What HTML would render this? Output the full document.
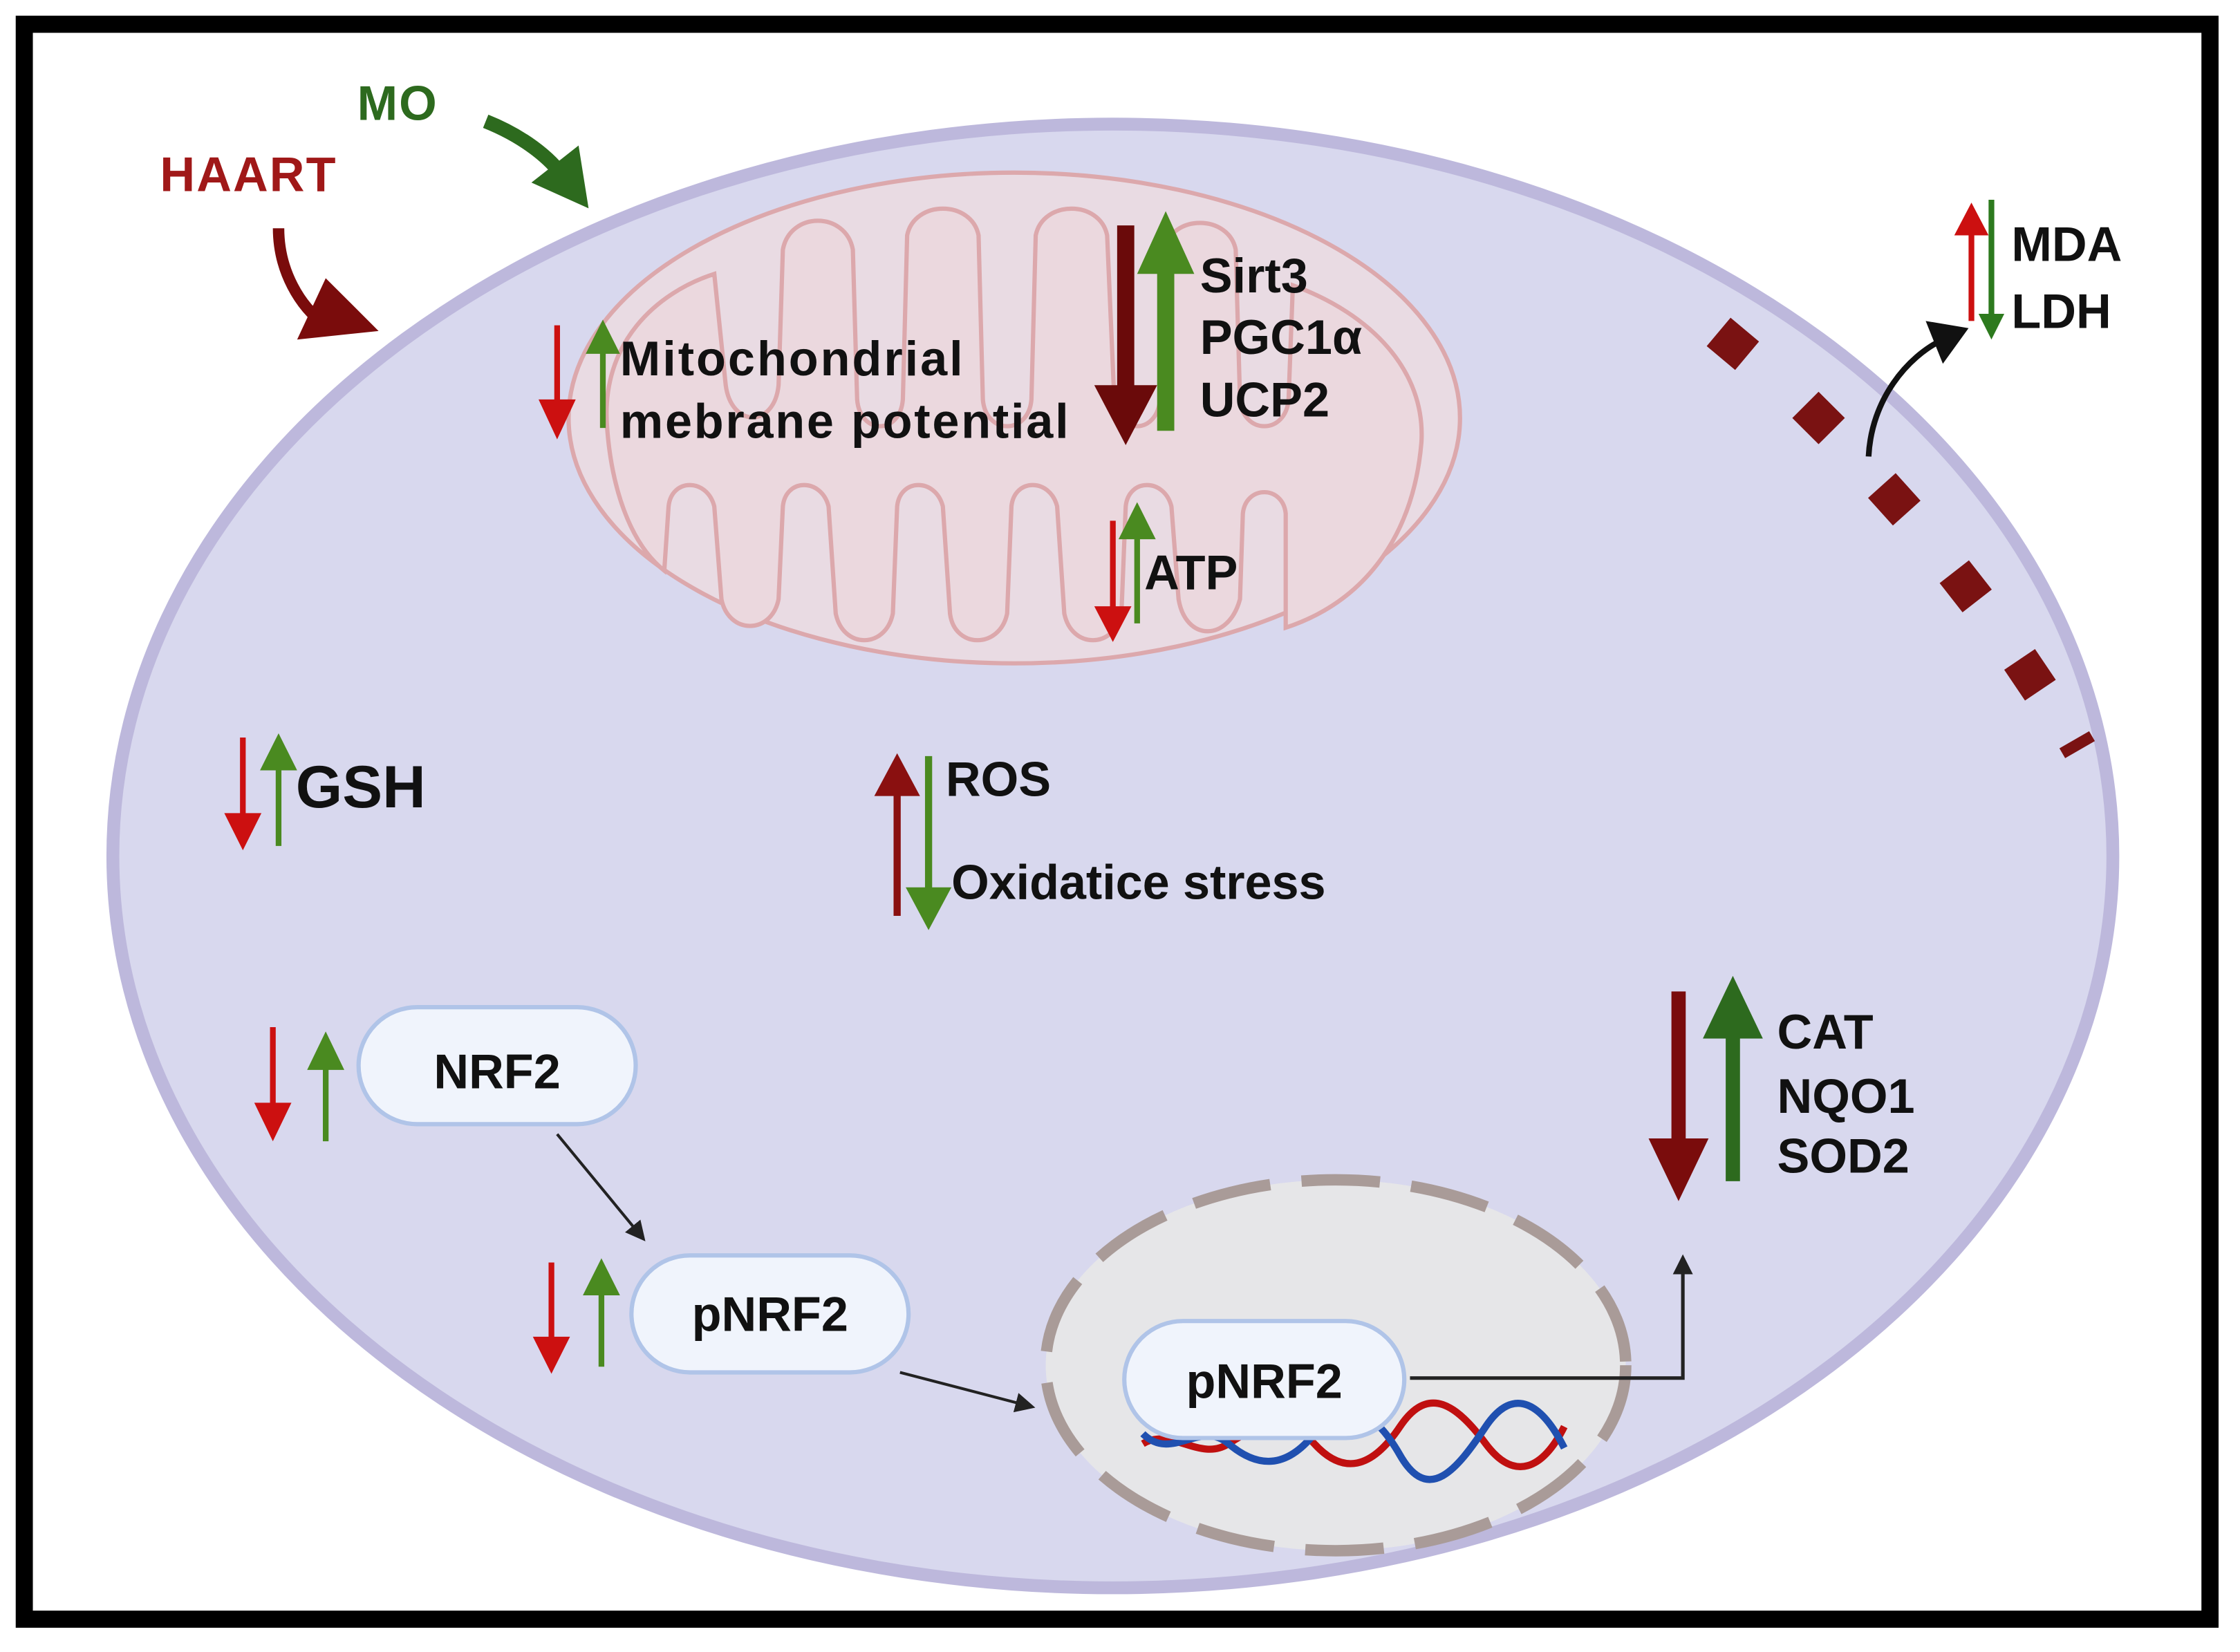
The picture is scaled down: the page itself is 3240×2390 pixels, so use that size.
<!DOCTYPE html>
<html><head><meta charset="utf-8"><style>
html,body{margin:0;padding:0;background:#fff}
svg{display:block}
text{font-family:"Liberation Sans",sans-serif;font-weight:bold}
</style></head><body>
<svg width="3240" height="2390" viewBox="0 0 1568 1158" preserveAspectRatio="none" xmlns="http://www.w3.org/2000/svg">
<defs>
<marker id="ak" viewBox="0 0 10 10" refX="8" refY="5" markerWidth="14" markerHeight="14" orient="auto" markerUnits="userSpaceOnUse"><path d="M0,0L10,5L0,10z" fill="#222"/></marker>
</defs>
<rect x="0" y="0" width="1568" height="1158" fill="#fff"/>
<rect x="17" y="17" width="1530" height="1118" fill="#fff" stroke="#000" stroke-width="12"/>
<ellipse cx="779" cy="600" rx="700" ry="513" fill="#d8d8ee" stroke="#bdb8dc" stroke-width="9"/>
<ellipse cx="710" cy="293" rx="312" ry="172" fill="#e9dbe3" stroke="#dca8ac" stroke-width="3"/>
<path d="M425,300 C420,240 460,205 500,192 L508,270 C512,300 542,300 545,270 L548,175 C553,148 592,148 597,175 L600,280 C602,305 630,305 632,280 L635,165 C640,140 680,140 685,165 L688,280 C690,305 720,305 722,280 L725,165 C730,140 770,140 775,165 L780,280 C782,305 810,305 812,280 L815,175 C820,150 860,150 865,175 L868,280 C870,305 900,305 902,280 L905,200 C960,220 998,260 995,310 C990,370 960,420 900,440 L900,360 C898,340 872,340 870,360 L868,420 C860,450 830,450 825,420 L820,355 C815,335 790,335 788,355 L785,430 C780,455 750,455 745,430 L740,355 C735,335 710,335 708,355 L705,430 C700,455 668,455 665,430 L660,355 C655,335 630,335 628,355 L625,430 C620,455 590,455 585,430 L580,355 C575,335 550,335 548,355 L545,420 C540,445 510,445 505,420 L500,355 C495,335 470,335 468,355 L465,400 C440,380 428,340 425,300Z" fill="#ebd8de" stroke="#dca8ac" stroke-width="3"/>
<g fill="#7a1212">
<rect x="1200" y="228" width="26" height="26" transform="rotate(40 1213 241)"/>
<rect x="1260" y="280" width="26" height="26" transform="rotate(45 1273 293)"/>
<rect x="1313" y="337" width="26" height="26" transform="rotate(48 1326 350)"/>
<rect x="1363" y="398" width="26" height="26" transform="rotate(52 1376 411)"/>
<rect x="1408" y="460" width="26" height="26" transform="rotate(56 1421 473)"/>
<rect x="1442" y="518" width="24" height="8" transform="rotate(-30 1454 522)"/>
</g>
<ellipse cx="935" cy="957" rx="203" ry="130" fill="#e6e6e8" stroke="#a99b98" stroke-width="8" stroke-dasharray="55,22"/>
<path d="M800,1012 C820,1000 840,1025 860,1012 S900,990 920,1012 S960,1030 980,1000 S1020,985 1040,1012 S1080,1030 1095,1000" fill="none" stroke="#c01010" stroke-width="5"/>
<path d="M800,1005 C820,1025 840,995 860,1012 S900,1030 920,1005 S960,985 980,1020 S1020,1030 1040,1000 S1080,985 1095,1015" fill="none" stroke="#2050b0" stroke-width="5"/>
<path d="M340,85 C365,95 385,110 395,125" fill="none" stroke="#2d6a1e" stroke-width="10"/>
<path d="M372,128 L412,146 L405,102z" fill="#2d6a1e"/>
<path d="M195,160 C195,190 210,215 228,228" fill="none" stroke="#7a0c0c" stroke-width="8"/>
<path d="M208,238 L265,232 L228,195z" fill="#7a0c0c"/>
<text x="250" y="84" font-size="34" fill="#2d6a1e" letter-spacing="1">MO</text>
<text x="112" y="134" font-size="34" fill="#a01818" letter-spacing="1">HAART</text>
<path d="M1308,320 C1310,280 1335,250 1360,238" fill="none" stroke="#111" stroke-width="4"/>
<path d="M1348,225 L1378,230 L1360,255z" fill="#111"/>
<line x1="1380" y1="155" x2="1380" y2="225" stroke="#cc1010" stroke-width="4"/><path d="M1368,165 L1380,142 L1392,165z" fill="#cc1010"/>
<line x1="1394" y1="140" x2="1394" y2="222" stroke="#2d7a1e" stroke-width="4"/><path d="M1385,220 L1394,238 L1403,220z" fill="#2d7a1e"/>
<text x="1408" y="183" font-size="34" fill="#111">MDA</text>
<text x="1408" y="230" font-size="34" fill="#111">LDH</text>
<line x1="390" y1="228" x2="390" y2="285" stroke="#cc1010" stroke-width="4"/><path d="M377,280 L390,308 L403,280z" fill="#cc1010"/>
<line x1="422" y1="240" x2="422" y2="300" stroke="#4a8a20" stroke-width="4"/><path d="M410,248 L422,224 L434,248z" fill="#4a8a20"/>
<text x="434" y="263" font-size="34" fill="#111" textLength="240">Mitochondrial</text>
<text x="434" y="307" font-size="34" fill="#111" textLength="314">mebrane potential</text>
<line x1="788" y1="158" x2="788" y2="275" stroke="#6a0a0a" stroke-width="12"/><path d="M766,270 L788,312 L810,270z" fill="#6a0a0a"/>
<line x1="816" y1="185" x2="816" y2="302" stroke="#4a8a20" stroke-width="12"/><path d="M796,192 L816,148 L836,192z" fill="#4a8a20"/>
<text x="840" y="205" font-size="34" fill="#111">Sirt3</text>
<text x="840" y="248" font-size="34" fill="#111">PGC1α</text>
<text x="840" y="292" font-size="34" fill="#111">UCP2</text>
<line x1="779" y1="365" x2="779" y2="430" stroke="#cc1010" stroke-width="4"/><path d="M766,425 L779,450 L792,425z" fill="#cc1010"/>
<line x1="796" y1="372" x2="796" y2="437" stroke="#4a8a20" stroke-width="4"/><path d="M783,378 L796,352 L809,378z" fill="#4a8a20"/>
<text x="801" y="413" font-size="34" fill="#111">ATP</text>
<line x1="170" y1="517" x2="170" y2="575" stroke="#cc1010" stroke-width="4"/><path d="M157,570 L170,596 L183,570z" fill="#cc1010"/>
<line x1="195" y1="535" x2="195" y2="593" stroke="#4a8a20" stroke-width="4"/><path d="M182,540 L195,514 L208,540z" fill="#4a8a20"/>
<text x="207" y="566" font-size="42" fill="#111">GSH</text>
<line x1="628" y1="550" x2="628" y2="642" stroke="#8a1010" stroke-width="5"/><path d="M612,558 L628,528 L644,558z" fill="#8a1010"/>
<line x1="650" y1="530" x2="650" y2="630" stroke="#4a8a20" stroke-width="5"/><path d="M634,622 L650,652 L666,622z" fill="#4a8a20"/>
<text x="662" y="558" font-size="34" fill="#111">ROS</text>
<text x="666" y="630" font-size="34" fill="#111" textLength="262">Oxidatice stress</text>
<line x1="1175" y1="695" x2="1175" y2="805" stroke="#7a0c0c" stroke-width="10"/><path d="M1154,798 L1175,842 L1196,798z" fill="#7a0c0c"/>
<line x1="1213" y1="720" x2="1213" y2="828" stroke="#2d6a1e" stroke-width="10"/><path d="M1192,728 L1213,684 L1234,728z" fill="#2d6a1e"/>
<text x="1244" y="735" font-size="34" fill="#111">CAT</text>
<text x="1244" y="780" font-size="34" fill="#111">NQO1</text>
<text x="1244" y="822" font-size="34" fill="#111">SOD2</text>
<line x1="191" y1="720" x2="191" y2="778" stroke="#cc1010" stroke-width="4"/><path d="M178,773 L191,800 L204,773z" fill="#cc1010"/>
<line x1="228" y1="745" x2="228" y2="800" stroke="#4a8a20" stroke-width="4"/><path d="M215,750 L228,723 L241,750z" fill="#4a8a20"/>
<rect x="251" y="706" width="194" height="82" rx="41" fill="#f0f4fc" stroke="#b0c4e8" stroke-width="3"/>
<text x="348" y="763" font-size="34" fill="#111" text-anchor="middle">NRF2</text>
<line x1="390" y1="795" x2="450" y2="868" stroke="#222" stroke-width="2" marker-end="url(#ak)"/>
<line x1="386" y1="885" x2="386" y2="940" stroke="#cc1010" stroke-width="4"/><path d="M373,937 L386,963 L399,937z" fill="#cc1010"/>
<line x1="421" y1="905" x2="421" y2="958" stroke="#4a8a20" stroke-width="4"/><path d="M408,908 L421,882 L434,908z" fill="#4a8a20"/>
<rect x="442" y="880" width="194" height="82" rx="41" fill="#f0f4fc" stroke="#b0c4e8" stroke-width="3"/>
<text x="539" y="933" font-size="34" fill="#111" text-anchor="middle">pNRF2</text>
<line x1="630" y1="962" x2="722" y2="986" stroke="#222" stroke-width="2" marker-end="url(#ak)"/>
<rect x="787" y="926" width="196" height="82" rx="41" fill="#f0f4fc" stroke="#b0c4e8" stroke-width="3"/>
<text x="885" y="980" font-size="34" fill="#111" text-anchor="middle">pNRF2</text>
<path d="M987,966 L1178,966 L1178,882" fill="none" stroke="#222" stroke-width="2.5" marker-end="url(#ak)"/>
</svg>
</body></html>
